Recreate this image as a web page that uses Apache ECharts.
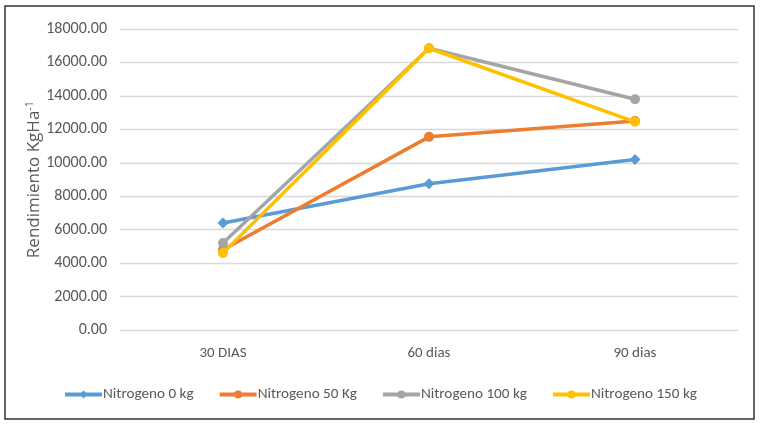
<!DOCTYPE html>
<html>
<head>
<meta charset="utf-8">
<script src="https://cdn.jsdelivr.net/npm/echarts@6/dist/echarts.min.js"></script>
<style>
html,body{margin:0;padding:0;background:#fff;}
#c{width:760px;height:426px;}
</style>
</head>
<body>
<div id="c"></div>
<script>
var categories = ['30 DIAS', '60 dias', '90 dias'];
var seriesNames = ['Nitrogeno 0 kg', 'Nitrogeno 50 Kg', 'Nitrogeno 100 kg', 'Nitrogeno 150 kg'];
var n0 = [6400, 8750, 10200];
var n50 = [4800, 11550, 12500];
var n100 = [5200, 16850, 13800];
var n150 = [4600, 16850, 12450];
var colors = ['#5B9BD5', '#ED7D31', '#A5A5A5', '#FFC000'];
var symbols = ['diamond', 'circle', 'circle', 'circle'];

var FONT = "Carlito, 'Liberation Sans Narrow', 'Open Sans', sans-serif";
var TFONT = "'Open Sans', 'Noto Sans', sans-serif";
var chart = echarts.init(document.getElementById('c'));
var data = [n0, n50, n100, n150];
var series = data.map(function (d, i) {
  return {
    name: seriesNames[i],
    type: 'line',
    data: d,
    symbol: symbols[i],
    symbolSize: i === 0 ? 11 : 10,
    lineStyle: { width: 3.5, color: colors[i] },
    itemStyle: { color: colors[i] },
    z: 2 + i
  };
});
chart.setOption({
  animation: false,
  color: colors,
  graphic: [{
    type: 'rect',
    shape: { x: 5, y: 6, width: 749, height: 413 },
    style: { fill: 'none', stroke: '#333', lineWidth: 1.5 },
    silent: true
  }],
  grid: { left: 120, right: 22, top: 29, bottom: 96 },
  legend: {
    top: 382,
    left: 'center',
    itemWidth: 37,
    itemHeight: 10,
    itemGap: 24,
    lineStyle: { width: 4 },
    textStyle: { color: '#595959', fontSize: 15.2, fontFamily: FONT, padding: [0, 0, 0, -4] },
    data: seriesNames
  },
  xAxis: {
    type: 'category',
    data: categories,
    boundaryGap: true,
    axisLine: { show: false },
    axisTick: { show: false },
    axisLabel: { color: '#595959', fontSize: 15, fontFamily: FONT, margin: 16 }
  },
  yAxis: {
    type: 'value',
    min: 0,
    max: 18000,
    interval: 2000,
    name: 'Rendimiento KgHa{sup|-1}',
    nameLocation: 'middle',
    nameGap: 76,
    nameMoveOverlap: false,
    nameTextStyle: {
      color: '#595959', fontSize: 17, fontFamily: TFONT,
      rich: { sup: { fontSize: 11, verticalAlign: 'top', color: '#595959', fontFamily: TFONT, padding: [0, 0, 9, 0] } }
    },
    axisLine: { show: false },
    axisTick: { show: false },
    splitLine: { lineStyle: { color: '#D9D9D9', width: 1.3 } },
    axisLabel: {
      color: '#595959', fontSize: 16, fontFamily: FONT, margin: 13,
      formatter: function (v) { return v.toFixed(2); }
    }
  },
  series: series
});
</script>
</body>
</html>
